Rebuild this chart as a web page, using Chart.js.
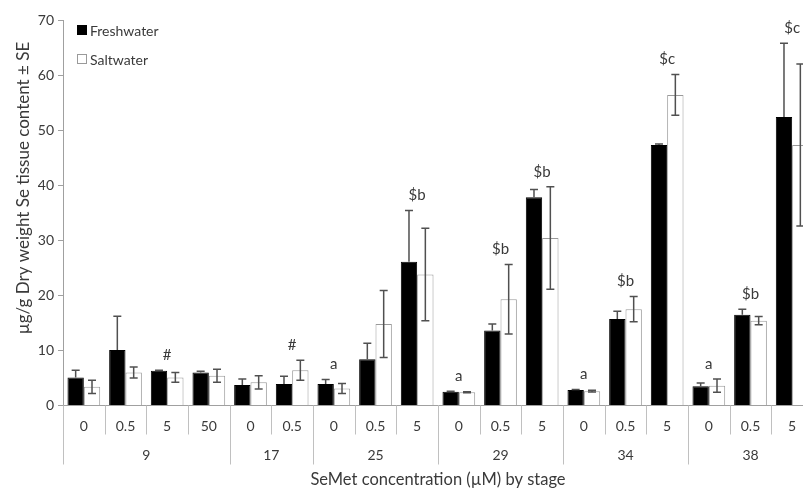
<!DOCTYPE html>
<html>
<head>
<meta charset="utf-8">
<script src="https://cdn.jsdelivr.net/npm/chart.js@4.4.1/dist/chart.umd.min.js"></script>
<style>
  html, body { margin: 0; padding: 0; background: #fff; overflow: hidden; }
  #wrap { width: 803px; height: 489px; overflow: hidden; }
</style>
</head>
<body>
<div id="wrap"><canvas id="seChart" width="813" height="489"></canvas></div>
<script>
// SeMet concentration (µM) for each bar pair, and the stage it belongs to
const concLabels = ['0', '0.5', '5', '50', '0', '0.5', '0', '0.5', '5', '0', '0.5', '5', '0', '0.5', '5', '0', '0.5', '5'];
const stageLabels = ['9', '9', '9', '9', '17', '17', '25', '25', '25', '29', '29', '29', '34', '34', '34', '38', '38', '38'];

// µg/g dry weight Se, mean and SE
const freshwater = [5.1, 10.1, 6.3, 6.0, 3.7, 3.9, 3.9, 8.4, 26.1, 2.5, 13.6, 37.8, 2.8, 15.7, 47.3, 3.5, 16.5, 52.4];
const freshwaterSE = [1.3, 6.1, 0.1, 0.2, 1.1, 1.4, 0.8, 2.9, 9.3, 0.1, 1.2, 1.4, 0.1, 1.4, 0.2, 0.6, 1.0, 13.4];
const saltwater = [3.4, 6.0, 5.1, 5.4, 4.2, 6.4, 3.1, 14.8, 23.8, 2.4, 19.3, 30.4, 2.6, 17.5, 56.4, 3.6, 15.4, 47.3];
const saltwaterSE = [1.2, 1.0, 0.9, 1.2, 1.2, 1.8, 0.9, 6.1, 8.4, 0.1, 6.3, 9.3, 0.15, 2.3, 3.7, 1.2, 0.75, 14.7];

// significance marks above each pair
const marks = ['', '', '#', '', '', '#', 'a', '', '$b', 'a', '$b', '$b', 'a', '$b', '$c', 'a', '$b', '$c'];

const yTicks = [0, 10, 20, 30, 40, 50, 60, 70];

const FONT = 'Lato, "Open Sans", sans-serif';
const TEXT = '#3a3a3a';
const LINE = '#a0a0a0';

// error bars: freshwater only upwards (hidden in the black bar), saltwater both ways
const errorBars = {
    id: 'errorBars',
    afterDatasetsDraw(chart) {
        const ctx = chart.ctx;
        const y = chart.scales.y;
        const sets = [[0, freshwaterSE, false], [1, saltwaterSE, true]];
        ctx.save();
        ctx.strokeStyle = '#505050';
        ctx.lineWidth = 1.5;
        sets.forEach(([idx, se, both]) => {
            const meta = chart.getDatasetMeta(idx);
            meta.data.forEach((bar, i) => {
                const v = chart.data.datasets[idx].data[i];
                const top = y.getPixelForValue(v + se[i]);
                const bot = both ? y.getPixelForValue(v - se[i]) : y.getPixelForValue(v);
                ctx.beginPath();
                ctx.moveTo(bar.x, top);
                ctx.lineTo(bar.x, bot);
                ctx.moveTo(bar.x - 4, top);
                ctx.lineTo(bar.x + 4, top);
                if (both) {
                    ctx.moveTo(bar.x - 4, bot);
                    ctx.lineTo(bar.x + 4, bot);
                }
                ctx.stroke();
            });
        });

        // letters above the highest error bar of each pair
        ctx.fillStyle = TEXT;
        ctx.font = '15px ' + FONT;
        ctx.textAlign = 'center';
        ctx.textBaseline = 'middle';
        const x = chart.scales.x;
        marks.forEach((m, i) => {
            if (!m) return;
            const hi = Math.max(freshwater[i] + freshwaterSE[i], saltwater[i] + saltwaterSE[i]);
            ctx.fillText(m, x.getPixelForValue(i), y.getPixelForValue(hi) - 15);
        });
        ctx.restore();
    }
};

// two-level category axis, axis titles and the legend
const decorations = {
    id: 'decorations',
    afterDraw(chart) {
        const ctx = chart.ctx;
        const x = chart.scales.x;
        const area = chart.chartArea;
        const base = area.bottom;
        const step = x.getPixelForValue(1) - x.getPixelForValue(0);

        ctx.save();
        ctx.strokeStyle = '#c0c0c0';
        ctx.lineWidth = 1;
        for (let i = 0; i <= concLabels.length; i++) {
            const px = Math.round(x.getPixelForValue(i) - step / 2) + 0.5;
            const groupEdge = i === 0 || i === concLabels.length || stageLabels[i] !== stageLabels[i - 1];
            ctx.beginPath();
            ctx.moveTo(px, base);
            ctx.lineTo(px, base + (groupEdge ? 59 : 29));
            ctx.stroke();
        }

        ctx.fillStyle = TEXT;
        ctx.font = '14px ' + FONT;
        ctx.textAlign = 'center';
        ctx.textBaseline = 'middle';
        concLabels.forEach((c, i) => ctx.fillText(c, x.getPixelForValue(i), base + 21));

        // stage labels centred under their group
        let start = 0;
        for (let i = 1; i <= stageLabels.length; i++) {
            if (i === stageLabels.length || stageLabels[i] !== stageLabels[start]) {
                const cx = (x.getPixelForValue(start) + x.getPixelForValue(i - 1)) / 2;
                ctx.fillText(stageLabels[start], cx, base + 50);
                start = i;
            }
        }

        ctx.font = '16.5px ' + FONT;
        ctx.fillText('SeMet concentration (µM) by stage', (area.left + area.right) / 2, base + 74);

        ctx.save();
        ctx.translate(24, 188);
        ctx.rotate(-Math.PI / 2);
        ctx.font = '17px ' + FONT;
        ctx.fillText('µg/g Dry weight Se tissue content ± SE', 0, 0);
        ctx.restore();

        // legend
        const lx = area.left + 14;
        const ly = area.top + 5;
        chart.data.datasets.forEach((ds, i) => {
            const top = ly + i * 29;
            ctx.fillStyle = ds.backgroundColor;
            ctx.fillRect(lx, top, 10, 10);
            ctx.strokeStyle = ds.borderColor;
            ctx.strokeRect(lx + 0.5, top + 0.5, 9, 9);
            ctx.fillStyle = TEXT;
            ctx.font = '14px ' + FONT;
            ctx.textAlign = 'left';
            ctx.fillText(ds.label, lx + 13, top + 6);
        });
        ctx.restore();
    }
};

const ctx = document.getElementById('seChart').getContext('2d');
const seChart = new Chart(ctx, {
    type: 'bar',
    data: {
        labels: concLabels,
        datasets: [
            {
                label: 'Freshwater',
                data: freshwater,
                backgroundColor: '#000',
                borderColor: '#000',
                borderWidth: 1
            },
            {
                label: 'Saltwater',
                data: saltwater,
                backgroundColor: '#fff',
                borderColor: '#9a9a9a',
                borderWidth: 1
            }
        ]
    },
    options: {
        responsive: false,
        animation: false,
        layout: { padding: { top: 20, left: 0, right: 0, bottom: 0 } },
        categoryPercentage: 0.785,
        barPercentage: 1.0,
        plugins: {
            legend: { display: false },
            tooltip: { enabled: false }
        },
        scales: {
            x: {
                offset: true,
                grid: { display: false },
                ticks: { display: false },
                border: { color: LINE },
                afterFit(s) { s.height = 83.5; }
            },
            y: {
                min: 0,
                max: 70,
                afterBuildTicks(s) { s.ticks = yTicks.map(v => ({ value: v })); },
                ticks: { color: TEXT, font: { size: 14, family: FONT }, padding: 4 },
                grid: { drawOnChartArea: false, tickLength: 5, color: LINE },
                border: { color: LINE },
                afterFit(s) { s.width = 63; }
            }
        }
    },
    plugins: [errorBars, decorations]
});
</script>
</body>
</html>
